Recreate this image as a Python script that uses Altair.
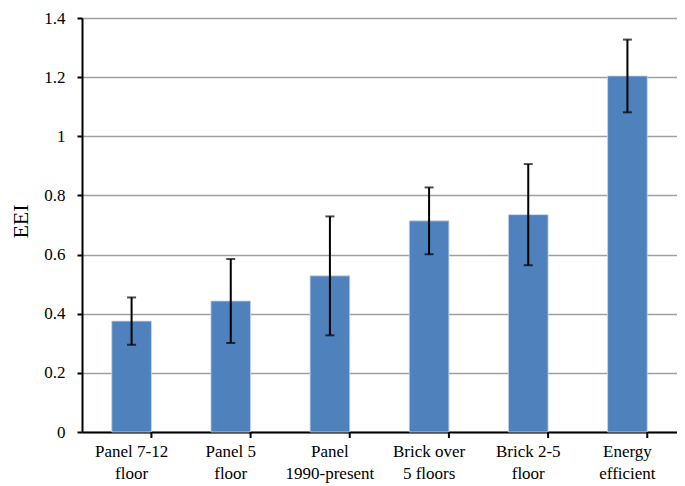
import altair as alt
import pandas as pd

categories = ["Panel 7-12\nfloor", "Panel 5\nfloor", "Panel\n1990-present",
              "Brick over\n5 floors", "Brick 2-5\nfloor", "Energy\nefficient"]
means = [0.375, 0.443, 0.528, 0.714, 0.735, 1.204]
errors = [0.080, 0.142, 0.201, 0.113, 0.171, 0.123]
y_ticks = [0, 0.2, 0.4, 0.6, 0.8, 1.0, 1.2, 1.4]

df = pd.DataFrame({"cat": categories, "mean": means, "err": errors})
df["lo"] = df["mean"] - df["err"]
df["hi"] = df["mean"] + df["err"]

FONT = "Times New Roman, Liberation Serif, serif"
W, H = 595, 414

xscale = alt.Scale(domain=categories, paddingInner=0.6, paddingOuter=0.3)
yscale = alt.Scale(domain=[0, 1.4], nice=False)

base = alt.Chart(df)

bars = base.mark_bar(color="#4f81bd", stroke="#c6d6ec", strokeWidth=0.8).encode(
    x=alt.X("cat:N", scale=xscale, sort=categories, title=None,
            axis=alt.Axis(labelAngle=0, labelExpr="split(datum.label, '\\n')",
                          labelFontSize=17, labelColor="black",
                          labelLineHeight=22, labelPadding=11, ticks=False,
                          domainColor="black", domainWidth=2, grid=False)),
    y=alt.Y("mean:Q", scale=yscale, title="EEI",
            axis=alt.Axis(values=y_ticks, format="~g",
                          labelFontSize=17, labelColor="black", labelPadding=12,
                          tickSize=5, tickColor="black", tickWidth=2,
                          domainColor="black", domainWidth=2,
                          gridColor="#a0a0a0", gridWidth=1.5,
                          titleFontSize=22, titleFontWeight="normal",
                          titleColor="black", titleAngle=270, titleX=-62, titleY=203,
                          titleAlign="center", titleBaseline="middle")),
)

err_rule = base.mark_rule(color="black", strokeWidth=2).encode(
    x=alt.X("cat:N", scale=xscale, sort=categories),
    y=alt.Y("lo:Q", scale=yscale),
    y2="hi:Q",
)
cap_lo = base.mark_tick(color="black", size=9, thickness=2, orient="horizontal").encode(
    x=alt.X("cat:N", scale=xscale, sort=categories),
    y=alt.Y("lo:Q", scale=yscale),
)
cap_hi = base.mark_tick(color="black", size=9, thickness=2, orient="horizontal").encode(
    x=alt.X("cat:N", scale=xscale, sort=categories),
    y=alt.Y("hi:Q", scale=yscale),
)
xticks = base.mark_rule(color="black", strokeWidth=2).encode(
    x=alt.X("cat:N", scale=xscale, sort=categories, bandPosition=1),
    y=alt.value(H),
    y2=alt.value(H + 6),
)

chart = alt.layer(bars, err_rule, cap_lo, cap_hi, xticks).properties(
    width=W, height=H,
    autosize=alt.AutoSizeParams(type="none"),
    padding={"left": 74, "top": 10, "right": 0, "bottom": 54},
).configure_view(stroke=None).configure(
    background="white", font=FONT
).configure_axis(labelFont=FONT, titleFont=FONT)

chart.save("out.html", embed_options={"renderer": "svg", "actions": False})
